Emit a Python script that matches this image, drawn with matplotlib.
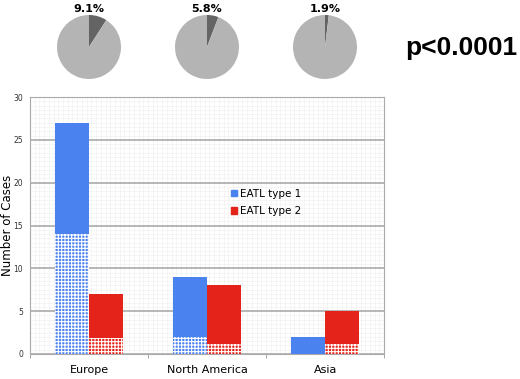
import numpy as np
import matplotlib.pyplot as plt
from matplotlib.patches import Patch

# data
regions = ['Europe', 'North America', 'Asia']
type1_total = [27, 9, 2]
type1_dotted = [14, 2, 0]
type2_total = [7, 8, 5]
type2_dotted = [1.9, 1.2, 1.2]
pie_pct = [9.1, 5.8, 1.9]
p_text = 'p<0.0001'

blue = '#4a82f0'
red = '#e4231a'
plt.rcParams['hatch.linewidth'] = 0.8

fig = plt.figure(figsize=(5.2, 3.79), dpi=100)
ax = fig.add_axes([0.0577, 0.066, 0.681, 0.678])

x = np.arange(len(regions))
w = 0.29
t1_solid = np.array(type1_total) - np.array(type1_dotted)
t2_solid = np.array(type2_total) - np.array(type2_dotted)

ax.bar(x - w/2, type1_dotted, w, color=blue, edgecolor='white', hatch='+++++', linewidth=0, zorder=3)
ax.bar(x - w/2, t1_solid, w, bottom=type1_dotted, color=blue, linewidth=0, zorder=3)
ax.bar(x + w/2, type2_dotted, w, color=red, edgecolor='white', hatch='+++++', linewidth=0, zorder=3)
ax.bar(x + w/2, t2_solid, w, bottom=type2_dotted, color=red, linewidth=0, zorder=3)

ax.set_xlim(-0.5, 2.5)
ax.set_ylim(0, 30)
ax.set_yticks(np.arange(0, 31, 5))
ax.set_yticks(np.arange(0, 30, 0.5), minor=True)
ax.tick_params(axis='y', which='both', length=0, labelsize=5.5, pad=5, colors='#333333')
ax.grid(axis='y', which='major', color='#aaaaaa', lw=1.2, zorder=1)
ax.grid(axis='y', which='minor', color='#f1f1f1', lw=0.5, zorder=0)
for xv in np.arange(-0.5, 2.5, 0.04):
    ax.axvline(xv, color='#f1f1f1', lw=0.5, zorder=0)

ax.set_xticks(x)
ax.set_xticklabels(regions, fontsize=8)
ax.tick_params(axis='x', which='major', length=0, pad=8)
ax.set_xticks([-0.5, 0.5, 1.5, 2.5], minor=True)
ax.tick_params(axis='x', which='minor', length=3, color='#999999', direction='out')

for s in ax.spines.values():
    s.set_color('#aaaaaa')
    s.set_linewidth(0.8)

ax.set_ylabel('Number of Cases', fontsize=8.5)
ax.yaxis.set_label_coords(-0.045, 0.5)

handles = [Patch(color=blue, label='EATL type 1'), Patch(color=red, label='EATL type 2')]
ax.legend(handles=handles, loc='center left', bbox_to_anchor=(0.54, 0.59), frameon=False,
          fontsize=7.5, handlelength=0.6, handleheight=0.6, handletextpad=0.3, labelspacing=0.7)

# pies on top
pie_x = [89, 207, 325]
for px, pct in zip(pie_x, pie_pct):
    pa = fig.add_axes([(px - 32) / 520, (379 - 79) / 379, 64 / 520, 64 / 379])
    pa.pie([pct, 100 - pct], colors=['#646464', '#b4b4b4'], startangle=90, counterclock=False,
           wedgeprops=dict(linewidth=0))
    pa.set_xlim(-1, 1)
    pa.set_ylim(-1, 1)
    pa.set_aspect('equal')
    fig.text(px / 520, 1 - 9 / 379, f'{pct}%', ha='center', va='center', fontsize=8, fontweight='bold')

fig.text(461 / 520, 1 - 48 / 379, p_text, ha='center', va='center', fontsize=19,
         fontweight='bold', family='Liberation Sans')

fig.savefig('out.png', dpi=100)
